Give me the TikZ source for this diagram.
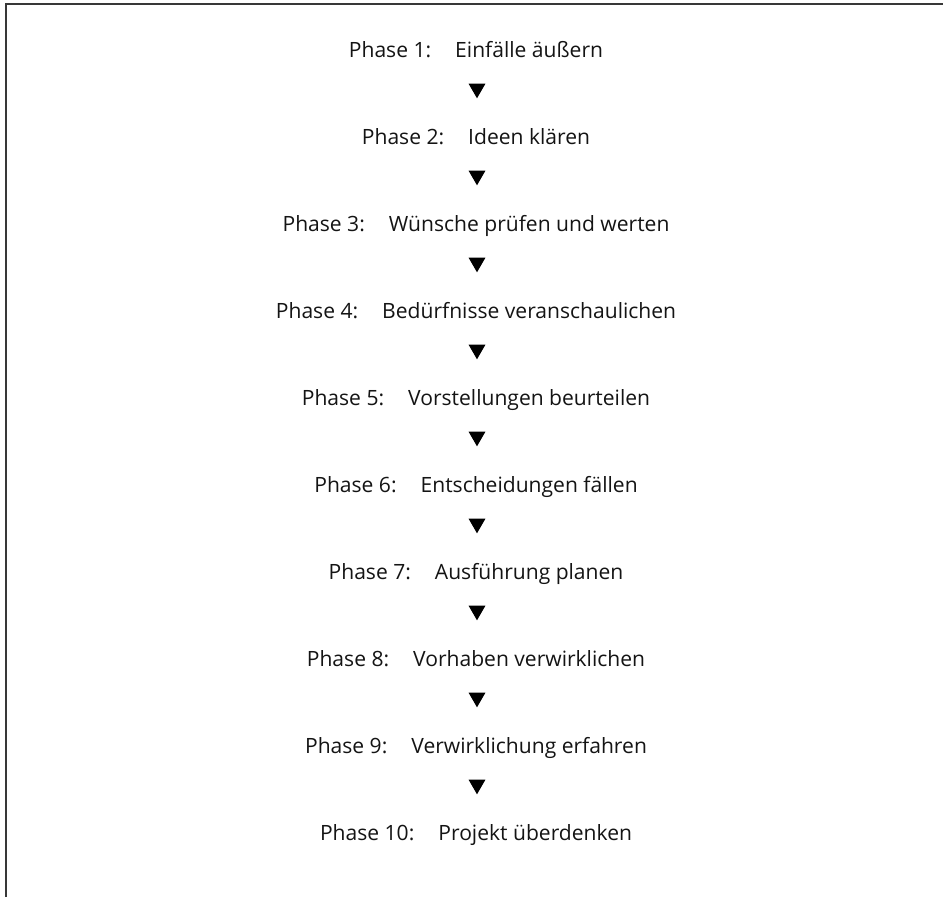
\documentclass[tikz,border=0pt]{standalone}
\usepackage{fontspec}
\setmainfont{Open Sans}
\usetikzlibrary{shapes.geometric}
\newcommand\phaseline[2]{Phase #1:\hspace*{18pt}#2}
\begin{document}
\begin{tikzpicture}[x=0.75pt,y=-0.75pt,
  phase/.style={anchor=base, inner sep=0pt, font=\fontsize{15.8pt}{18pt}\selectfont, text=black!92},
  tri/.style={regular polygon, regular polygon sides=3, shape border rotate=180, fill=black, draw=none, inner sep=0pt, minimum size=14.7pt}]
\useasboundingbox (0,0) rectangle (943,897);
\draw[line width=1.1pt, black!78] (6,897) -- (6,4) -- (943,4);
\foreach \i/\t in {1/Einfälle äußern,2/Ideen klären,3/Wünsche prüfen und werten,4/Bedürfnisse veranschaulichen,5/Vorstellungen beurteilen,6/Entscheidungen fällen,7/Ausführung planen,8/Vorhaben verwirklichen,9/Verwirklichung erfahren,10/Projekt überdenken}{
  \pgfmathsetmacro\yy{57.5+86.95*(\i-1)}
  \node[phase] (p\i) at (476,\yy) {\phaseline{\i}{\t}};
}
\foreach \i in {1,...,9}{
  \pgfmathsetmacro\yy{88.5+87*(\i-1)}
  \node[tri] (t\i) at (477,\yy) {};
}
\end{tikzpicture}
\end{document}
